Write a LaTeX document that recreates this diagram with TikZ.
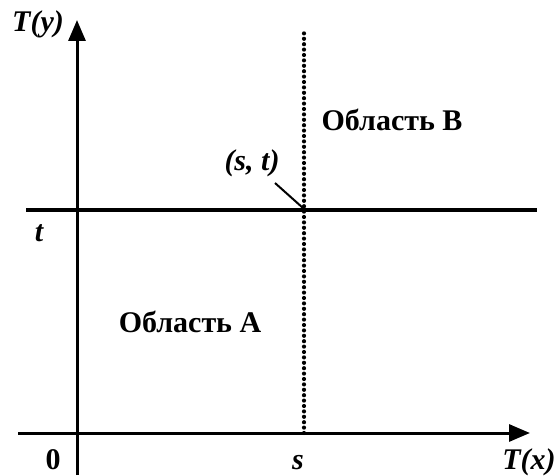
\documentclass[tikz,border=0pt]{standalone}
\usepackage{fontspec}
\setmainfont{Liberation Serif}
\usetikzlibrary{arrows.meta}
\tikzset{
  axis/.style={line width=3pt,-{Triangle[length=21pt,width=17pt]}},
  tline/.style={line width=4pt},
  dotline/.style={line width=4.2pt,line cap=round,dash pattern=on 0pt off 5.4pt},
  lbl/.style={font=\fontsize{30}{32}\selectfont\bfseries, inner sep=0pt},
  ilbl/.style={font=\fontsize{30}{32}\selectfont\bfseries\itshape, inner sep=0pt},
}
\begin{document}
\begin{tikzpicture}[x=1pt,y=1pt]
\useasboundingbox (0,0) rectangle (558,475);
% axes
\coordinate (ybot) at (77,0);
\coordinate (ytop) at (77,455);
\coordinate (xl) at (18,42);
\coordinate (xr) at (530,42);
\draw[axis] (ybot) -- (ytop);
\draw[axis] (xl) -- (xr);
% t line
\coordinate (tl) at (26,265);
\coordinate (tr) at (537,265);
\draw[tline] (tl) -- (tr);
% dotted s line
\coordinate (sb) at (304,42);
\coordinate (stop) at (304,446);
\draw[dotline] (sb) -- (stop);
\coordinate (st) at (303,267);
% labels
\node[ilbl] (Ty) at (38,451) {T(y)};
\node[ilbl] (Tx) at (529,13) {T(x)};
\node[lbl] (zero) at (53,15) {0};
\node[ilbl] (s) at (298,12) {s};
\node[ilbl] (t) at (39,242) {t};
\node[ilbl] (stl) at (252,312) {(s, t)};
\coordinate (lead) at (275,292);
\draw[line width=2pt] (lead) -- (st);
\node[lbl] (A) at (190,153) {Область A};
\node[lbl] (B) at (392,355) {Область B};
\end{tikzpicture}
\end{document}
